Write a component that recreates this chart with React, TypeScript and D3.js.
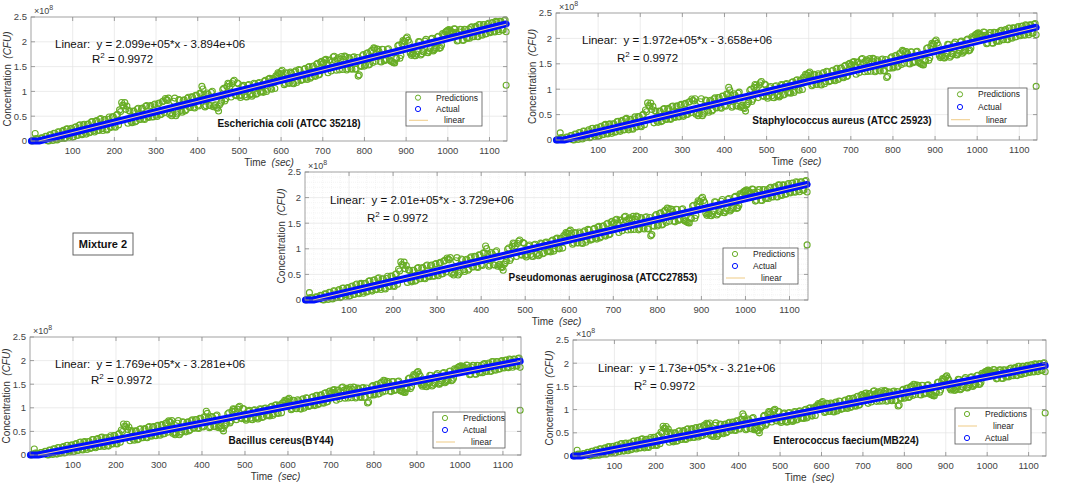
import React from 'react';
import * as d3 from 'd3';

// ---- data ----
const species = [
	'Escherichia coli (ATCC 35218)',
	'Staphylococcus aureus (ATCC 25923)',
	'Pseudomonas aeruginosa (ATCC27853)',
	'Bacillus cereus(BY44)',
	'Enterococcus faecium(MB224)',
];
const equations = [
	'y = 2.099e+05*x - 3.894e+06',
	'y = 1.972e+05*x - 3.658e+06',
	'y = 2.01e+05*x - 3.729e+06',
	'y = 1.769e+05*x - 3.281e+06',
	'y = 1.73e+05*x - 3.21e+06',
];
const slopes = [2.099e5, 1.972e5, 2.01e5, 1.769e5, 1.73e5];
const intercepts = [-3.894e6, -3.658e6, -3.729e6, -3.281e6, -3.21e6];
const rSquared = ['0.9972', '0.9972', '0.9972', '0.9972', '0.9972'];
const legendOrders = [
	['Predictions', 'Actual', 'linear'],
	['Predictions', 'Actual', 'linear'],
	['Predictions', 'Actual', 'linear'],
	['Predictions', 'Actual', 'linear'],
	['Predictions', 'linear', 'Actual'],
];

// actual concentration (x1e8 CFU): flat, then straight up to the end
const actualTimes = [1, 19, 1140];
const actualValues = [
	[0, 0, 2.36],
	[0, 0, 2.22],
	[0, 0, 2.26],
	[0, 0, 1.99],
	[0, 0, 1.95],
];

const xTicks = [100, 200, 300, 400, 500, 600, 700, 800, 900, 1000, 1100];
const yTicks = [0, 0.5, 1, 1.5, 2, 2.5];
const yTickLabels = ['0', '0.5', '1', '1.5', '2', '2.5'];

// prediction scatter: deviation from the trend (1e6 CFU, E. coli scale)
const predTimesA = d3.range(5, 1141, 5);
const predDevA = [
	2, 15, 4, -2, 5, -3, 6, -4, 7, -3,
	8, -5, 9, -6, 7, -8, 10, -4, 8, -9,
	9, -8, 11, -7, 10, -6, 9, -9, 12, -7,
	11, -8, 13, -7, 10, -10, 9, -8, 12, -9,
	13, -8, 18, 30, 34, 26, 16, -7, 13, -10,
	15, -7, 13, -8, 16, -6, 14, -8, 15, -7,
	15, -8, 17, -6, 19, 21, -10, -13, 18, -15,
	13, -10, 9, -13, 11, -8, 12, -10, 13, -8,
	15, 28, 11, -13, 9, -15, 13, -17, -22, -30,
	-15, 11, -13, 15, 19, -8, 22, -6, 17, -10,
	-10, 9, -15, 7, -13, -17, 8, -15, 6, -13,
	-13, 7, -15, 9, -11, 8, -13, 11, 15, 18,
	13, -8, 11, -10, 9, -13, 12, -8, 11, -9,
	11, -8, 13, -10, 12, -7, 15, -8, 17, 13,
	19, 11, 17, -6, 21, 13, 15, -8, 18, 11,
	15, -10, 9, -13, 11, -15, -30, -10, 9, -13,
	11, -13, 13, -10, 17, 15, 9, -13, 11, -10,
	9, -13, -17, -21, -13, 11, -15, 13, 17, 22,
	17, -10, -13, -17, -15, 9, -19, -13, 7, -17,
	-15, 8, -17, -13, 9, -15, -10, 11, 15, 17,
	15, 11, 17, 9, -8, 13, -10, 11, -8, 9,
	11, -8, 9, -10, 13, -8, 11, -9, 9, -7,
	10, -8, 11, -7, 9, -9, 8, -15,
];
const predTimesB = d3.range(2.5, 1140, 5);
const predDevB = [
	0, -1, 5, 3, -3, 4, -4, 5, -5, 6,
	-6, 7, -7, 8, -6, 9, -7, 10, -8, 9,
	-9, 10, -8, 12, -9, 11, -10, 9, -8, 12,
	-10, 12, -9, 14, -11, 10, -12, 13, -9, 11,
	-11, 14, 22, 36, 28, 20, -9, 14, -10, 12,
	-9, 16, -8, 14, -10, 17, -8, 15, -9, 16,
	-10, 16, -8, 18, 22, 17, -12, -16, 12, -18,
	-12, 11, -14, 10, -11, 13, -9, 11, -12, 12,
	-10, 14, 22, -15, 12, -14, 11, -19, -16, -24,
	-18, -12, 13, -9, 21, 14, 18, 24, -8, 15,
	-14, 7, -11, -16, 8, -12, -15, 6, -14, 7,
	-12, -15, 8, -11, 10, -13, 7, 12, 17, 14,
	20, -10, 13, -9, 12, -11, 10, -12, 13, -10,
	-9, 12, -11, 14, -8, 13, -9, 16, -7, 18,
	14, 20, -8, 16, 12, 22, -7, 17, 13, -9,
	17, -12, 12, -11, 10, -14, 8, -28, -12, 11,
	-11, 12, -12, 15, 19, -9, 14, -11, 12, -12,
	-11, 10, -16, -19, -22, -14, 12, -10, 19, 16,
	24, 12, -15, -12, -18, -10, 8, -17, -14, 10,
	-18, -11, 9, -15, -12, 10, -14, 13, 9, 16,
	18, 14, 10, 16, -9, 8, 12, -11, 10, -9,
	-10, 12, -9, 11, -11, 12, -10, 10, -9, 11,
	-9, 10, -10, 9, -11, 8, -10, 9,
];
const outlierTimes = [1140];
const outlierDev = [-123];

// ---- layout ----
const layout = [
	{ x0: 31, x1: 507, y0: 17, y1: 141, eq: [55, 48], r2: [92, 63], sp: [289, 127], lg: [406, 92, 482, 126], minor: false },
	{ x0: 556, x1: 1037, y0: 13, y1: 140, eq: [582, 44], r2: [617, 62], sp: [842, 124], lg: [948, 88, 1027, 126], minor: false },
	{ x0: 305, x1: 808, y0: 172, y1: 300, eq: [330, 204], r2: [367, 222], sp: [603, 281], lg: [723, 248, 798, 284], minor: true },
	{ x0: 30, x1: 521, y0: 337, y1: 455, eq: [55, 368], r2: [91, 384], sp: [281, 444], lg: [433, 412, 505, 448], minor: false },
	{ x0: 573, x1: 1046, y0: 340, y1: 456, eq: [598, 372], r2: [634, 390], sp: [846, 444], lg: [955, 408, 1031, 444], minor: false },
];

const FONT = '"Liberation Sans", Arial, sans-serif';
const GREEN = '#68ad26';
const BLUE = '#0010ff';
const FITC = '#f2d49a';
const AXIS = '#8a8a8a';
const TICKTXT = '#444';

const Panel: React.FC<{ i: number }> = ({ i }) => {
	const L = layout[i];
	const x = d3.scaleLinear().domain([0, 1142]).range([L.x0, L.x1]);
	const y = d3.scaleLinear().domain([0, 2.5]).range([L.y1, L.y0]);
	const fit = (t: number) => (slopes[i] * t + intercepts[i]) / 1e8;
	const scale = slopes[i] / slopes[0];

	const preds: [number, number][] = [];
	predTimesB.forEach((t, k) => preds.push([t, Math.max(0, fit(t)) + (predDevB[k] * scale) / 100]));
	predTimesA.forEach((t, k) => preds.push([t, Math.max(0, fit(t)) + (predDevA[k] * scale) / 100]));
	outlierTimes.forEach((t, k) => preds.push([t, fit(t) + (outlierDev[k] * scale) / 100]));

	const line = d3.line<[number, number]>().x(d => x(d[0])).y(d => y(d[1]));
	const actual: [number, number][] = actualTimes.map((t, k) => [t, actualValues[i][k]]);
	const t0 = -intercepts[i] / slopes[i];
	const fitPts: [number, number][] = [[t0, 0], [1140, fit(1140)]];

	const minorX = L.minor ? d3.range(20, 1142, 20).filter(v => v % 100 !== 0) : [];
	const minorY = L.minor ? d3.range(0.1, 2.5, 0.1).filter(v => Math.abs(v * 2 - Math.round(v * 2)) > 1e-6) : [];
	const tk = 4;
	const [lx0, ly0, lx1, ly1] = L.lg;
	const rowH = (ly1 - ly0) / 3;

	return (
		<g fontFamily={FONT}>
			<rect x={L.x0} y={L.y0} width={L.x1 - L.x0} height={L.y1 - L.y0} fill="#fff" />
			{minorX.map(v => <line key={'mx' + v} x1={x(v)} x2={x(v)} y1={L.y0} y2={L.y1} stroke="#eeeeee" strokeWidth={0.6} strokeDasharray="1,1" />)}
			{minorY.map(v => <line key={'my' + v} x1={L.x0} x2={L.x1} y1={y(v)} y2={y(v)} stroke="#eeeeee" strokeWidth={0.6} strokeDasharray="1,1" />)}
			{xTicks.map(v => <line key={'gx' + v} x1={x(v)} x2={x(v)} y1={L.y0} y2={L.y1} stroke="#e4e4e4" strokeWidth={0.7} />)}
			{yTicks.slice(1, -1).map(v => <line key={'gy' + v} x1={L.x0} x2={L.x1} y1={y(v)} y2={y(v)} stroke="#e4e4e4" strokeWidth={0.7} />)}

			{preds.filter(d => d[1] >= 0 && d[1] <= 2.5).map((d, k) => (
				<circle key={'p' + k} cx={x(d[0])} cy={y(d[1])} r={3} fill="none" stroke={GREEN} strokeWidth={1.1} />
			))}
			<path d={line(actual) || ''} fill="none" stroke={BLUE} strokeWidth={7} strokeLinecap="round" strokeLinejoin="round" />
			<path d={line(fitPts) || ''} fill="none" stroke={FITC} strokeWidth={1} />

			<rect x={L.x0} y={L.y0} width={L.x1 - L.x0} height={L.y1 - L.y0} fill="none" stroke={AXIS} strokeWidth={0.8} />
			{xTicks.map(v => (
				<g key={'tx' + v}>
					<line x1={x(v)} x2={x(v)} y1={L.y1} y2={L.y1 - tk} stroke={AXIS} strokeWidth={0.8} />
					<line x1={x(v)} x2={x(v)} y1={L.y0} y2={L.y0 + tk} stroke={AXIS} strokeWidth={0.8} />
					<text x={x(v)} y={L.y1 + 13} fontSize={9.5} fill={TICKTXT} textAnchor="middle">{v}</text>
				</g>
			))}
			{yTicks.map((v, k) => (
				<g key={'ty' + v}>
					<line x1={L.x0} x2={L.x0 + tk} y1={y(v)} y2={y(v)} stroke={AXIS} strokeWidth={0.8} />
					<line x1={L.x1} x2={L.x1 - tk} y1={y(v)} y2={y(v)} stroke={AXIS} strokeWidth={0.8} />
					<text x={L.x0 - 4} y={y(v) + 3.3} fontSize={9.5} fill={TICKTXT} textAnchor="end">{yTickLabels[k]}</text>
				</g>
			))}
			<text x={L.x0 + 3} y={L.y0 - 3} fontSize={9} fill={TICKTXT}>
				×10<tspan dy={-4} fontSize={7}>8</tspan>
			</text>
			<text x={(L.x0 + L.x1) / 2} y={L.y1 + 25} fontSize={10} fill="#333" textAnchor="middle" xmlSpace="preserve">
				{'Time  '}<tspan fontStyle="italic">(sec)</tspan>
			</text>
			<text transform={`translate(${L.x0 - 20},${(L.y0 + L.y1) / 2}) rotate(-90)`} fontSize={10} fill="#333" textAnchor="middle" xmlSpace="preserve">
				{'Concentration  '}<tspan fontStyle="italic">(CFU)</tspan>
			</text>

			<text x={L.eq[0]} y={L.eq[1]} fontSize={11.5} fill="#111" xmlSpace="preserve">{'Linear:  ' + equations[i]}</text>
			<text x={L.r2[0]} y={L.r2[1]} fontSize={11.5} fill="#111">
				R<tspan dy={-5} fontSize={8}>2</tspan><tspan dy={5}> = {rSquared[i]}</tspan>
			</text>
			<text x={L.sp[0]} y={L.sp[1]} fontSize={10} fontWeight="bold" fill="#111" textAnchor="middle">{species[i]}</text>

			<rect x={lx0} y={ly0} width={lx1 - lx0} height={ly1 - ly0} fill="#fff" stroke="#555" strokeWidth={0.8} />
			{legendOrders[i].map((name, k) => {
				const cy = ly0 + rowH * (k + 0.5);
				return (
					<g key={name}>
						{name === 'linear'
							? <line x1={lx0 + 3} x2={lx0 + 22} y1={cy} y2={cy} stroke={FITC} strokeWidth={1.2} />
							: <circle cx={lx0 + 12} cy={cy} r={2.6} fill="none" stroke={name === 'Actual' ? BLUE : GREEN} strokeWidth={1} />}
						<text x={lx0 + (name === 'linear' ? 38 : 30)} y={cy + 3} fontSize={8.5} fill="#222">{name}</text>
					</g>
				);
			})}
		</g>
	);
};

export default function App() {
	return (
		<svg width={1065} height={486} style={{ position: 'fixed', left: 0, top: 0, background: '#fff' }}>
			<rect width={1065} height={486} fill="#fff" />
			{layout.map((_, i) => <Panel key={i} i={i} />)}
			<rect x={73} y={233} width={60} height={22} fill="#fff" stroke="#555" strokeWidth={0.9} />
			<text x={103} y={248} fontSize={11} fontWeight="bold" fontFamily={FONT} textAnchor="middle" fill="#111">Mixture 2</text>
		</svg>
	);
}
